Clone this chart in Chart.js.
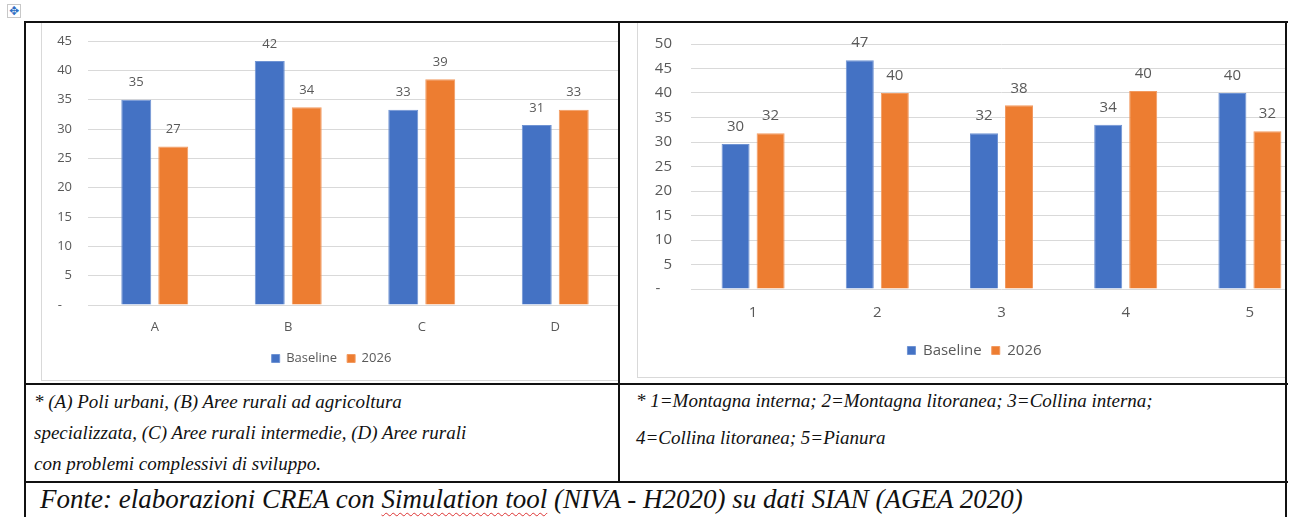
<!DOCTYPE html>
<html>
<head>
<meta charset="utf-8">
<script src="https://cdn.jsdelivr.net/npm/chart.js@4.4.1/dist/chart.umd.min.js"></script>
<style>
  body { margin: 0; width: 1292px; height: 517px; background: #fff; position: relative; overflow: hidden; }
  .line { position: absolute; background: #111; }
  .cell { position: absolute; overflow: hidden; }
  .frame { position: absolute; border: 1px solid #d9d9d9; }
  canvas { position: absolute; }
  .note { position: absolute; font-family: "Liberation Serif", serif; font-style: italic; color: #111; white-space: nowrap; }
  .handle { position: absolute; left: 7px; top: 4px; width: 12px; height: 12px; border: 1px solid #c8c8c8; color: #2f6fc4; font-size: 12px; line-height: 12px; text-align: center; font-family: "DejaVu Sans", sans-serif; }
  .squiggle { text-decoration: underline wavy #d33; text-decoration-thickness: 1px; text-underline-offset: 4px; }
</style>
</head>
<body>
<div class="handle">✥</div>

<!-- table borders -->
<div class="line" style="left:24px;top:21px;width:1264px;height:2px"></div>
<div class="line" style="left:24px;top:21px;width:2px;height:496px"></div>
<div class="line" style="left:1285px;top:21px;width:2px;height:496px"></div>
<div class="line" style="left:618px;top:21px;width:2px;height:462px"></div>
<div class="line" style="left:24px;top:383px;width:1264px;height:2px"></div>
<div class="line" style="left:24px;top:481px;width:1264px;height:2px"></div>

<div class="cell" style="left:26px;top:23px;width:592px;height:360px">
  <div class="frame" style="left:15px;top:-2px;width:620px;height:358px"></div>
  <canvas id="chartAree" width="600" height="358" style="left:15px;top:-1px"></canvas>
</div>
<div class="cell" style="left:620px;top:23px;width:665px;height:360px">
  <div class="frame" style="left:17px;top:-2px;width:700px;height:355px"></div>
  <canvas id="chartZone" width="700" height="355" style="left:17px;top:-1px"></canvas>
</div>

<div class="note" style="left:34px;top:386px;font-size:19px;line-height:31px">* (A) Poli urbani, (B) Aree rurali ad agricoltura<br>specializzata, (C) Aree rurali intermedie, (D) Aree rurali<br>con problemi complessivi di sviluppo.</div>
<div class="note" style="left:636px;top:382px;font-size:19px;line-height:37px">* 1=Montagna interna; 2=Montagna litoranea; 3=Collina interna;<br>4=Collina litoranea; 5=Pianura</div>
<div class="note" style="left:40px;top:483px;font-size:27px;line-height:32px">Fonte: elaborazioni CREA con <span class="squiggle">Simulation tool</span> (NIVA - H2020) su dati SIAN (AGEA 2020)</div>

<script>
// Aree rurali (A-D)
const areeLabels   = ["A", "B", "C", "D"];
const areeBaseline = [35.0, 41.6, 33.3, 30.7];
const aree2026     = [27.0, 33.7, 38.5, 33.3];

// Zone altimetriche (1-5)
const zoneLabels   = ["1", "2", "3", "4", "5"];
const zoneBaseline = [29.6, 46.7, 31.8, 33.5, 40.0];
const zone2026     = [31.8, 40.0, 37.5, 40.4, 32.2];

const seriesNames = ["Baseline", "2026"];
const blue   = "#4472C4";
const orange = "#ED7D31";
const grey   = "#595959";

// value labels above each bar
const valueLabels = {
  id: "valueLabels",
  afterDatasetsDraw(chart, args, opts) {
    const { ctx } = chart;
    ctx.save();
    ctx.font = `${opts.size}px "Open Sans"`;
    ctx.fillStyle = grey;
    ctx.textAlign = "center";
    ctx.textBaseline = "middle";
    chart.data.datasets.forEach((ds, i) => {
      chart.getDatasetMeta(i).data.forEach((bar, j) => {
        ctx.fillText(Math.round(ds.data[j]), bar.x, bar.y - opts.offset);
      });
    });
    ctx.restore();
  }
};

function makeChart(id, labels, base, next, o) {
  return new Chart(document.getElementById(id), {
    type: "bar",
    data: {
      labels,
      datasets: [
        { label: seriesNames[0], data: base, backgroundColor: blue, borderColor: "#6f93d3", borderWidth: 1 },
        { label: seriesNames[1], data: next, backgroundColor: orange, borderColor: "#f29a60", borderWidth: 1 }
      ]
    },
    options: {
      responsive: false,
      animation: false,
      devicePixelRatio: 1,
      datasets: { bar: { barPercentage: o.barPct, categoryPercentage: o.catPct } },
      layout: { padding: o.padding },
      plugins: {
        legend: {
          position: "bottom",
          labels: { color: grey, font: { family: "Open Sans", size: o.size }, boxWidth: 8, boxHeight: 8, padding: 10 }
        },
        tooltip: { enabled: false },
        valueLabels: { size: o.size, offset: o.offset }
      },
      scales: {
        x: {
          grid: { display: false, drawTicks: false },
          border: { display: false },
          ticks: { color: grey, font: { family: "Open Sans", size: o.size }, padding: o.xPad },
          afterFit: s => { s.height = o.xHeight; }
        },
        y: {
          min: 0,
          max: o.max,
          // tick gap done with an invisible tick mark so it does not add top padding
          grid: { color: "#d9d9d9", drawTicks: true, tickLength: o.yGap, tickColor: "rgba(0,0,0,0)" },
          border: { display: false },
          ticks: {
            stepSize: 5,
            color: grey,
            font: { family: "Open Sans", size: o.size },
            padding: 0,
            callback: v => v === 0 ? "-   " : v
          },
          afterFit: s => { s.width = o.yWidth; }
        }
      }
    },
    plugins: [valueLabels]
  });
}

makeChart("chartAree", areeLabels, areeBaseline, aree2026, {
  max: 45, size: 13, offset: 17,
  barPct: 0.81, catPct: 0.554,
  padding: { top: 19, right: 19, bottom: 5, left: 0 },
  xPad: 14, xHeight: 37, yGap: 16, yWidth: 47
});

makeChart("chartZone", zoneLabels, zoneBaseline, zone2026, {
  max: 50, size: 15, offset: 17,
  barPct: 0.8, catPct: 0.564,
  padding: { top: 22, right: 25, bottom: 9, left: 0 },
  xPad: 15, xHeight: 44, yGap: 19, yWidth: 54
});
</script>
</body>
</html>
